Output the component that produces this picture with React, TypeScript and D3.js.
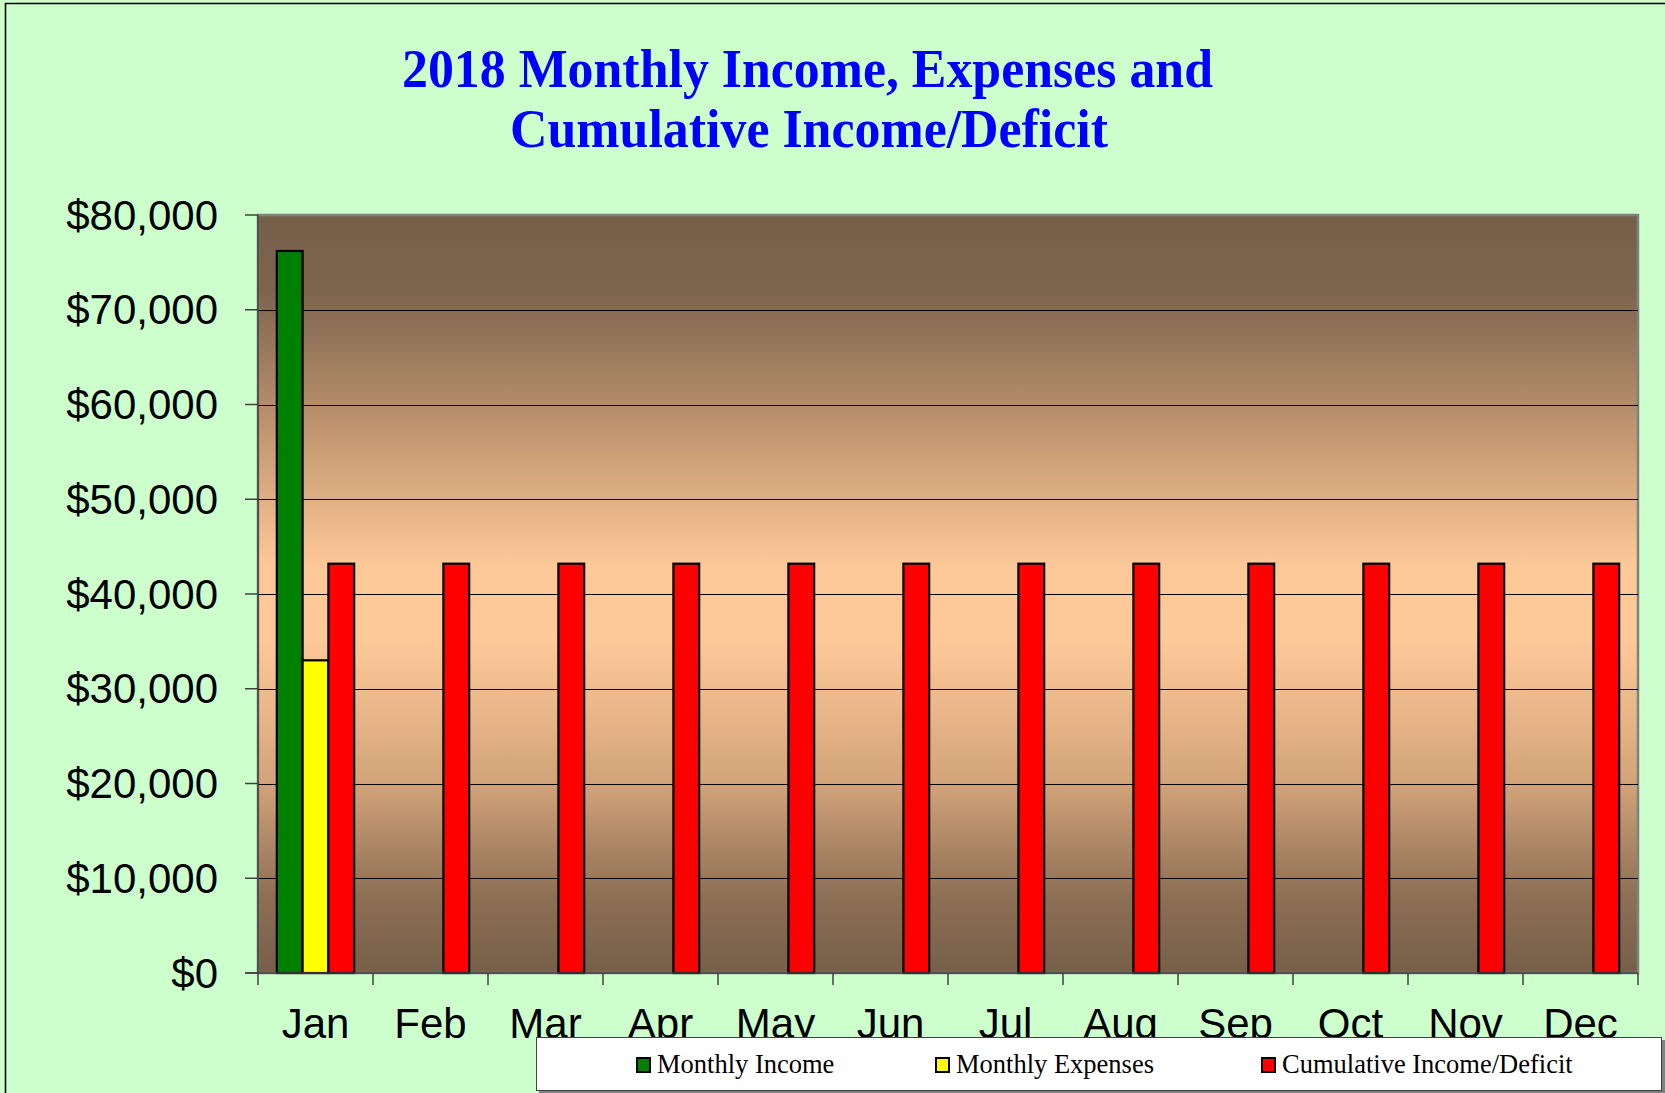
import React from "react";
import * as d3 from "d3";

const months = ["Jan","Feb","Mar","Apr","May","Jun","Jul","Aug","Sep","Oct","Nov","Dec"];
const monthlyIncome: (number | null)[] = [76200, null, null, null, null, null, null, null, null, null, null, null];
const monthlyExpenses: (number | null)[] = [33000, null, null, null, null, null, null, null, null, null, null, null];
const cumulative: (number | null)[] = [43200, 43200, 43200, 43200, 43200, 43200, 43200, 43200, 43200, 43200, 43200, 43200];
const yTicks = [0, 10000, 20000, 30000, 40000, 50000, 60000, 70000, 80000];
const seriesNames = ["Monthly Income", "Monthly Expenses", "Cumulative Income/Deficit"];
const seriesColors = ["#008000", "#FFFF00", "#FF0000"];

const W = 1665, H = 1093;
const PL = 258, PR = 1638, PT = 215, PB = 973;

export default function App() {
  const x = d3.scaleBand<string>().domain(months).range([PL, PR]).paddingInner(0).paddingOuter(0);
  const y = d3.scaleLinear().domain([0, 80000]).range([PB, PT]);
  const bw = x.bandwidth();
  const barW = bw / (3 + 1.46);
  const gap = (bw - 3 * barW) / 2;
  const series = [monthlyIncome, monthlyExpenses, cumulative];
  const fmt = (v: number) => "$" + d3.format(",")(v);

  const legendX = [637, 936, 1262];
  const serif = "'Liberation Serif', 'Times New Roman', serif";
  const sans = "'Liberation Sans', Arial, sans-serif";

  return (
    <svg width={W} height={H} style={{ position: "absolute", left: 0, top: 0 }}>
      <defs>
        <linearGradient id="bg" x1="0" y1="0" x2="0" y2="1">
          <stop offset="0%" stopColor="#765f49" />
          <stop offset="10%" stopColor="#7d644d" />
          <stop offset="30%" stopColor="#c69a73" />
          <stop offset="46%" stopColor="#fdc898" />
          <stop offset="56%" stopColor="#fec999" />
          <stop offset="75%" stopColor="#d2a379" />
          <stop offset="90%" stopColor="#8d6f54" />
          <stop offset="100%" stopColor="#765f49" />
        </linearGradient>
      </defs>
      <rect x={0} y={0} width={W} height={H} fill="#ccffcc" />
      <path d={`M5.5,${H + 5} V3.5 H${W + 5}`} fill="none" stroke="#000" strokeWidth={1.6} />

      <text x={402} y={87} textLength={811} lengthAdjust="spacingAndGlyphs" fontFamily={serif} fontWeight="bold" fontSize={54} fill="#0000FF">2018 Monthly Income, Expenses and</text>
      <text x={510} y={147} textLength={598} lengthAdjust="spacingAndGlyphs" fontFamily={serif} fontWeight="bold" fontSize={54} fill="#0000FF">Cumulative Income/Deficit</text>

      <rect x={PL} y={PT} width={PR - PL} height={PB - PT} fill="url(#bg)" stroke="#808080" strokeWidth={2.5} />

      {yTicks.filter(t => t > 0 && t < 80000).map(t => (
        <line key={t} x1={PL} x2={PR} y1={Math.round(y(t)) + 0.5} y2={Math.round(y(t)) + 0.5} stroke="#000" strokeWidth={1} />
      ))}

      {months.map((m, i) => series.map((s, k) => {
        const v = s[i];
        if (v == null) return null;
        const bx = (x(m) as number) + gap + k * barW;
        return <rect key={m + k} x={bx} y={y(v)} width={barW} height={y(0) - y(v)} fill={seriesColors[k]} stroke="#000" strokeWidth={2.2} />;
      }))}

      <line x1={PL} x2={PL} y1={PT} y2={PB} stroke="#404040" strokeWidth={1.5} />
      <line x1={245} x2={PR} y1={PB} y2={PB} stroke="#404040" strokeWidth={1.5} />
      {yTicks.map(t => (
        <g key={t}>
          <line x1={245} x2={PL} y1={y(t)} y2={y(t)} stroke="#404040" strokeWidth={1.5} />
          <text x={218} y={y(t)} dy="0.35em" textAnchor="end" fontFamily={sans} fontSize={42} fill="#000">{fmt(t)}</text>
        </g>
      ))}
      {[...months.map(m => x(m) as number), PR].map((xx, i) => (
        <line key={i} x1={xx} x2={xx} y1={PB} y2={985} stroke="#404040" strokeWidth={1.5} />
      ))}
      {months.map(m => (
        <text key={m} x={(x(m) as number) + bw / 2} y={1038} textAnchor="middle" fontFamily={sans} fontSize={42} fill="#000">{m}</text>
      ))}

      <rect x={539} y={1040} width={1126} height={54} fill="#808080" />
      <rect x={536.5} y={1037.5} width={1125} height={53} fill="#fff" stroke="#404040" strokeWidth={1} />
      {seriesNames.map((n, k) => (
        <g key={n}>
          <rect x={legendX[k]} y={1058} width={13} height={14} fill={seriesColors[k]} stroke="#000" strokeWidth={2} />
          <text x={legendX[k] + 20} y={1073} fontFamily={serif} fontSize={26.5} fill="#000">{n}</text>
        </g>
      ))}
    </svg>
  );
}
